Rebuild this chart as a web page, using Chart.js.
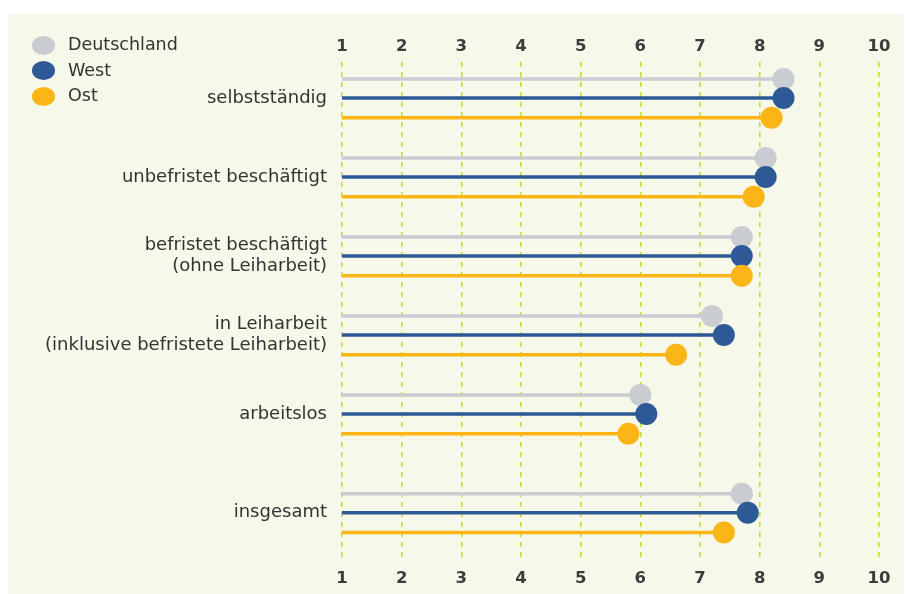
<!DOCTYPE html>
<html lang="de">
<head>
<meta charset="UTF-8">
<title>Zufriedenheit</title>
<script src="https://cdn.jsdelivr.net/npm/chart.js@4.4.1/dist/chart.umd.min.js"></script>
<style>
  body { margin:0; background:#fff; font-family:"DejaVu Sans", sans-serif; }
  #wrap { position:relative; width:906px; height:594px; }
  #panel { position:absolute; left:8px; top:14px; right:2px; bottom:0; background:#f6f8e9; }
  #chartBox { position:absolute; left:0; top:0; width:906px; height:594px; }
  #legend { position:absolute; left:32px; top:33px; font-size:17.5px; color:#333; }
  #legend div { height:25.5px; line-height:22px; white-space:nowrap; }
  #legend span { display:inline-block; width:23px; height:19px; border-radius:50%; vertical-align:middle; margin-right:13px; }
</style>
</head>
<body>
<div id="wrap">
  <div id="panel"></div>
  <div id="chartBox"><canvas id="myChart"></canvas></div>
  <div id="legend"></div>
</div>
<script>
// Kategorien (mehrzeilige Beschriftung als Array)
var categories = [
  'selbstständig',
  'unbefristet beschäftigt',
  ['befristet beschäftigt', '(ohne Leiharbeit)'],
  ['in Leiharbeit', '(inklusive befristete Leiharbeit)'],
  'arbeitslos',
  'insgesamt'
];
var seriesNames = ['Deutschland', 'West', 'Ost'];
var deutschland = [8.4, 8.1, 7.7, 7.2, 6.0, 7.7];
var west        = [8.4, 8.1, 7.7, 7.4, 6.1, 7.8];
var ost         = [8.2, 7.9, 7.7, 6.6, 5.8, 7.4];
var xTicks = [1, 2, 3, 4, 5, 6, 7, 8, 9, 10];

var colors = ['#c9ccd1', '#2d5a97', '#fbb517'];
var allValues = [deutschland, west, ost];

// Position der Gruppen auf der y-Achse (insgesamt etwas abgesetzt)
var groupPos = [0, 1, 2, 3, 4, 5.25];
var rowOffset = [-0.24, 0, 0.25];

var datasets = allValues.map(function(vals, s){
  var pts = [];
  vals.forEach(function(v, i){
    var y = groupPos[i] + rowOffset[s];
    pts.push({x: xTicks[0], y: y});
    pts.push({x: v, y: y});
    pts.push({x: null, y: null});
  });
  return {
    label: seriesNames[s],
    data: pts,
    showLine: true,
    spanGaps: false,
    borderColor: colors[s],
    backgroundColor: colors[s],
    borderWidth: 3.5,
    pointRadius: function(c){ return c.dataIndex % 3 === 1 ? 11 : 0; },
    pointHoverRadius: function(c){ return c.dataIndex % 3 === 1 ? 11 : 0; },
    pointBorderWidth: 0,
    clip: false,
    order: 2 - s
  };
});

var tickFont = { family: '"DejaVu Sans", sans-serif', size: 16.5, weight: 'bold' };
var dashGrid = {
  color: '#c6dc34',
  lineWidth: 1.6,
  drawTicks: false
};

var ctx = document.getElementById('myChart').getContext('2d');
var myChart = new Chart(ctx, {
  type: 'scatter',
  data: { datasets: datasets },
  options: {
    responsive: true,
    maintainAspectRatio: false,
    animation: false,
    layout: { padding: { left: 0, right: 27, top: 0, bottom: 0 } },
    plugins: { legend: { display: false }, tooltip: { enabled: false } },
    scales: {
      x: {
        type: 'linear', position: 'bottom', min: 1, max: 10,
        grid: dashGrid,
        border: { display: false, dash: [5, 5] },
        ticks: { stepSize: 1, color: '#3c3c3c', font: tickFont, padding: 9 },
        afterFit: function(sc){ sc.height = 34; }
      },
      x2: {
        type: 'linear', position: 'top', min: 1, max: 10,
        grid: { display: false },
        border: { display: false },
        ticks: { stepSize: 1, color: '#3c3c3c', font: tickFont, padding: -3 },
        afterFit: function(sc){ sc.height = 62; }
      },
      y: {
        type: 'linear', reverse: true, min: -0.456, max: 5.848,
        grid: { display: false },
        border: { display: false },
        afterBuildTicks: function(sc){
          sc.ticks = groupPos.map(function(p){ return { value: p }; });
        },
        ticks: {
          color: '#333',
          font: { family: '"DejaVu Sans", sans-serif', size: 18, lineHeight: 1.15 },
          padding: 7,
          callback: function(v, i){ return categories[i]; }
        },
        afterFit: function(sc){ sc.width = 342; }
      }
    }
  }
});

// Legende als HTML
var lg = document.getElementById('legend');
seriesNames.forEach(function(n, s){
  var d = document.createElement('div');
  d.innerHTML = '<span style="background:' + colors[s] + '"></span>' + n;
  lg.appendChild(d);
});
</script>
</body>
</html>
